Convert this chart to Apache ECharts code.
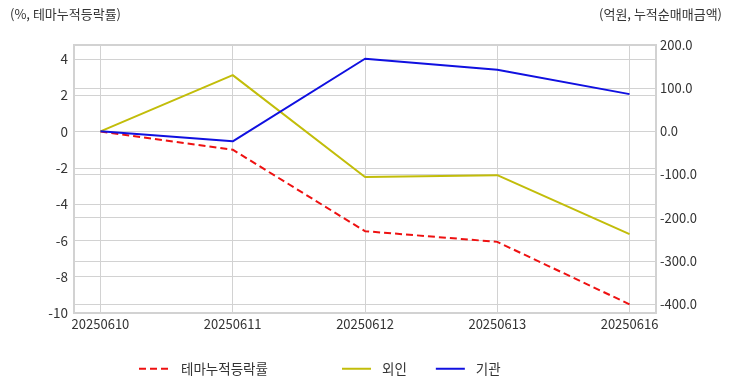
<!DOCTYPE html>
<html>
<head>
<meta charset="utf-8">
<script src="https://cdn.jsdelivr.net/npm/echarts@6/dist/echarts.min.js"></script>
<style>html,body{margin:0;padding:0;background:#fff}#c{width:732px;height:392px}</style>
</head>
<body>
<div id="c"></div>
<script>
const categories = ['20250610', '20250611', '20250612', '20250613', '20250616'];
const themeReturn = [0, -1.0, -5.49, -6.08, -9.52];
const foreign = [0, 130.2, -105.7, -101.7, -238.2];
const institution = [0, -23.1, 168.1, 142.7, 86.2];
const seriesNames = ['테마누적등락률', '외인', '기관'];
const leftAxisTitle = '(%, 테마누적등락률)';
const rightAxisTitle = '(억원, 누적순매매금액)';

const FONT = '"Noto Sans CJK KR", "Noto Sans", sans-serif';
const pair = arr => arr.map((v, i) => [i, v]);
const idx = categories.map((_, i) => i);

const chart = echarts.init(document.getElementById('c'));
chart.setOption({
  animation: false,
  textStyle: { fontFamily: FONT },
  grid: { left: 74, right: 76, top: 45, bottom: 79, show: true, borderColor: '#d2d2d2', borderWidth: 2, containLabel: false },
  graphic: [
    { type: 'text', left: 10, top: 8, style: { text: leftAxisTitle, font: '13px ' + FONT, fill: '#333' } },
    { type: 'text', right: 10, top: 8, style: { text: rightAxisTitle, font: '13px ' + FONT, fill: '#333' } }
  ],
  legend: [
    { data: [seriesNames[0]], left: 138, top: 362, padding: 0, itemWidth: 29, itemHeight: 14, itemGap: 28,
      itemStyle: { opacity: 0 },
      textStyle: { fontSize: 13.5, color: '#333', fontFamily: FONT, padding: [0, 0, 0, 8] } },
    { data: [seriesNames[1], seriesNames[2]], left: 341, top: 362, padding: 0, itemWidth: 29, itemHeight: 14, itemGap: 28,
      itemStyle: { opacity: 0 },
      textStyle: { fontSize: 13.5, color: '#333', fontFamily: FONT, padding: [0, 0, 0, 6] } }
  ],
  xAxis: {
    type: 'value', min: -0.2, max: 4.2,
    axisLine: { show: false },
    axisTick: { show: false, customValues: idx },
    axisLabel: { customValues: idx, formatter: v => categories[Math.round(v)], color: '#333', fontSize: 13, margin: 5, fontFamily: FONT },
    splitLine: { show: true, lineStyle: { color: '#d2d2d2', width: 1 } }
  },
  yAxis: [
    { type: 'value', min: -10, max: 4.77, interval: 2, position: 'left',
      axisLine: { show: false }, axisTick: { show: false },
      axisLabel: { showMaxLabel: false, color: '#333', fontSize: 13.5, margin: 6, fontFamily: FONT },
      splitLine: { show: true, lineStyle: { color: '#d2d2d2', width: 1 } } },
    { type: 'value', min: -421, max: 200, splitNumber: 6, position: 'right',
      axisLine: { show: false }, axisTick: { show: false },
      axisLabel: { showMinLabel: false, formatter: v => v.toFixed(1), color: '#333', fontSize: 13, margin: 4, fontFamily: FONT },
      splitLine: { show: true, lineStyle: { color: '#d2d2d2', width: 1 } } }
  ],
  series: [
    { name: seriesNames[0], type: 'line', yAxisIndex: 0, data: pair(themeReturn), symbol: 'none',
      lineStyle: { color: '#ee1111', width: 2, type: [7, 4] }, itemStyle: { color: '#ee1111' } },
    { name: seriesNames[1], type: 'line', yAxisIndex: 1, data: pair(foreign), symbol: 'none',
      lineStyle: { color: '#c2bd0a', width: 2 }, itemStyle: { color: '#c2bd0a' } },
    { name: seriesNames[2], type: 'line', yAxisIndex: 1, data: pair(institution), symbol: 'none',
      lineStyle: { color: '#1010e0', width: 2 }, itemStyle: { color: '#1010e0' } }
  ]
});
</script>
</body>
</html>
